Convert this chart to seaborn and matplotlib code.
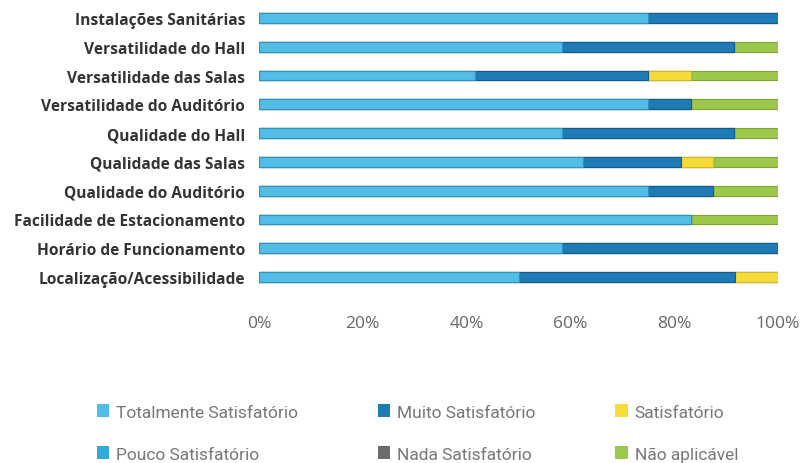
import pandas as pd
import numpy as np
import matplotlib
matplotlib.use("Agg")
import matplotlib.pyplot as plt
import seaborn as sns
from matplotlib.patches import Patch

# data (percent of answers)
categories = ["Instalações Sanitárias", "Versatilidade do Hall", "Versatilidade das Salas",
              "Versatilidade do Auditório", "Qualidade do Hall", "Qualidade das Salas",
              "Qualidade do Auditório", "Facilidade de Estacionamento",
              "Horário de Funcionamento", "Localização/Acessibilidade"]
totalmente = [75.0, 58.3, 41.7, 75.0, 58.3, 62.5, 75.0, 83.3, 58.3, 50.0]
muito = [25.0, 33.3, 33.3, 8.3, 33.3, 18.75, 12.5, 0.0, 41.7, 41.7]
satisfatorio = [0.0, 0.0, 8.3, 0.0, 0.0, 6.25, 0.0, 0.0, 0.0, 8.3]
pouco = [0.0] * 10
nada = [0.0] * 10
nao_aplicavel = [0.0, 8.4, 16.7, 16.7, 8.4, 12.5, 12.5, 16.7, 0.0, 0.0]

series_names = ["Totalmente Satisfatório", "Muito Satisfatório", "Satisfatório",
                "Pouco Satisfatório", "Nada Satisfatório", "Não aplicável"]
series_values = [totalmente, muito, satisfatorio, pouco, nada, nao_aplicavel]
colors = ["#52bde6", "#1f7bb6", "#f6dc3a", "#35a9d6", "#6b6b6b", "#9dc84b"]
edges = ["#2f93bd", "#145c8a", "#d9b920", "#2389b0", "#4a4a4a", "#7ea533"]

df = pd.DataFrame(dict(zip(series_names, series_values)), index=categories)
cum = df.cumsum(axis=1)

sns.set_style("white")
plt.rcParams["font.family"] = ["Open Sans", "DejaVu Sans"]

fig = plt.figure(figsize=(8.03, 4.64), dpi=100)
ax = fig.add_axes([0.3225, 0.37, 0.6465, 0.62])

# stacked bars: draw cumulative totals from the last series back to the first
for name, col, ec in reversed(list(zip(series_names, colors, edges))):
    d = pd.DataFrame({"cat": categories, "val": cum[name].values})
    sns.barplot(data=d, y="cat", x="val", orient="h", color=col, width=0.34,
                edgecolor=ec, linewidth=0.8, saturation=1, ax=ax)

ax.set_xlim(0, 100)
ax.set_ylim(9.5, -0.5)
ax.set_xticks([0, 20, 40, 60, 80, 100])
ax.set_xticklabels(["0%", "20%", "40%", "60%", "80%", "100%"])
ax.set_xlabel("")
ax.set_ylabel("")
ax.tick_params(axis="x", length=0, pad=17, labelsize=12.5, labelcolor="#666666")
ax.tick_params(axis="y", length=0, pad=10, labelsize=11.2, labelcolor="#333333")
for lab in ax.get_yticklabels():
    lab.set_fontweight("bold")
sns.despine(ax=ax, left=True, bottom=True)

# legend: row-wise order with 3 columns
order = [0, 3, 1, 4, 2, 5]
handles = [Patch(facecolor=colors[i], edgecolor="none", label=series_names[i]) for i in order]
fig.legend(handles=handles, ncol=3, loc="center", bbox_to_anchor=(0.52, 0.065),
           frameon=False, labelcolor="#777777", handlelength=0.7,
           handleheight=0.8, handletextpad=0.4, columnspacing=4.6, labelspacing=1.5,
           prop={"family": ["Roboto", "DejaVu Sans"], "size": 12.5})

fig.savefig("out.png", dpi=100, facecolor="white")
